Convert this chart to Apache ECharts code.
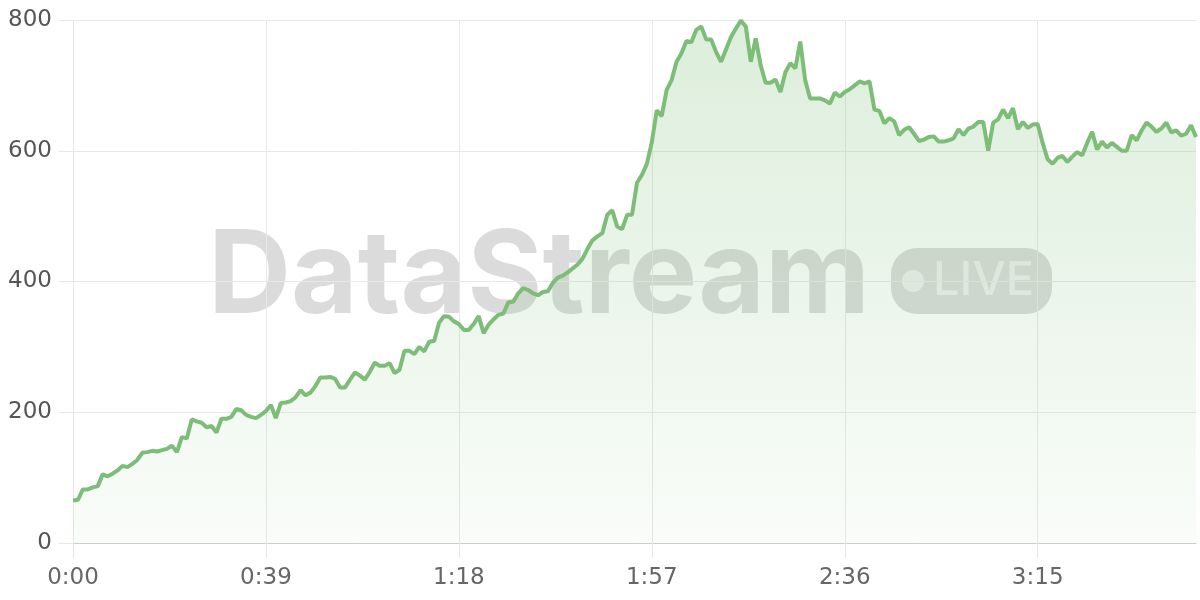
<!DOCTYPE html>
<html>
<head>
<meta charset="utf-8">
<script src="https://cdn.jsdelivr.net/npm/echarts@6/dist/echarts.min.js"></script>
<style>html,body{margin:0;padding:0;background:#fff}#c{width:1200px;height:600px}</style>
</head>
<body>
<div id="c"></div>
<script>
// values per second, 0:00 .. 3:47
const values = [
65,66,82,82,85,87,105,102,106,111,
118,116,121,127,138,139,141,140,142,144,
149,139,162,160,189,186,184,177,179,169,
190,190,193,205,203,196,193,191,196,202,
211,191,214,215,217,223,234,226,230,240,
253,253,254,251,238,238,250,261,256,250,
262,276,271,271,275,260,265,294,294,289,
300,293,308,309,337,347,346,339,335,326,
326,335,347,321,334,342,349,351,368,369,
382,390,387,382,379,384,385,398,406,409,
414,420,426,435,450,463,469,474,502,509,
484,480,502,502,551,563,580,613,662,653,
693,708,736,749,768,766,785,790,770,770,
751,736,755,774,787,799,790,736,772,731,
704,704,709,690,720,734,726,767,708,680,
680,680,677,672,689,683,690,694,700,706,
703,706,663,661,642,650,645,624,632,636,
626,615,617,621,622,614,614,616,619,633,
624,634,637,644,644,600,643,648,663,650,
665,633,644,635,640,641,612,587,580,589,
592,583,591,598,593,612,629,602,614,605,
612,606,600,600,624,616,631,643,637,629,
634,643,628,631,623,626,639,621
];
// category labels m:ss, one per sample
const categories = values.map((_, i) => Math.floor(i / 60) + ':' + String(i % 60).padStart(2, '0'));
const yTicks = [0, 200, 400, 600, 800];

const chart = echarts.init(document.getElementById('c'), null, {renderer: 'canvas'});
const AXFONT = '"DejaVu Sans", sans-serif';
const WMFONT = 'Inter, "Noto Sans", sans-serif';
chart.setOption({
  animation: false,
  backgroundColor: '#fff',
  grid: {left: 73, right: 4, top: 20, bottom: 57, containLabel: false},
  graphic: [
    {type: 'text', left: 208, top: 221, z: 0, silent: true,
     style: {text: 'DataStream', font: 'bold 115px ' + WMFONT, fill: 'rgba(0,0,0,0.14)'}},
    {type: 'rect', left: 891, top: 248, z: 0, silent: true,
     shape: {width: 161, height: 66, r: 26}, style: {fill: 'rgba(0,0,0,0.14)'}},
    {type: 'circle', left: 902, top: 270, z: 0, silent: true,
     shape: {r: 11}, style: {fill: 'rgba(255,255,255,0.55)'}},
    {type: 'text', left: 933, top: 257, z: 0, silent: true,
     style: {text: 'LIVE', font: '500 47px ' + WMFONT, fill: 'rgba(255,255,255,0.55)'}}
  ],
  xAxis: {
    type: 'category',
    data: categories,
    boundaryGap: false,
    axisLine: {show: true, lineStyle: {color: '#ccc', width: 1}},
    axisTick: {show: true, interval: 38, length: 15, lineStyle: {color: '#e6e6e6'}},
    axisLabel: {interval: 38, color: '#666', fontSize: 23, fontFamily: AXFONT, margin: 24},
    splitLine: {show: true, interval: 38, lineStyle: {color: '#e8e8e8', width: 1}}
  },
  yAxis: {
    type: 'value',
    min: 0, max: 800, interval: 200,
    axisLine: {show: false},
    axisTick: {show: true, length: 15, lineStyle: {color: '#e8e8e8'}},
    axisLabel: {color: '#555', fontSize: 23, fontFamily: AXFONT, margin: 21,
      formatter: v => yTicks.includes(v) ? String(v) : ''},
    splitLine: {show: true, lineStyle: {color: '#e8e8e8', width: 1}}
  },
  series: [{
    type: 'line',
    data: values,
    showSymbol: false,
    z: 3,
    lineStyle: {color: '#7cbd78', width: 4},
    areaStyle: {
      color: new echarts.graphic.LinearGradient(0, 0, 0, 1, [
        {offset: 0, color: 'rgba(125,190,120,0.38)'},
        {offset: 1, color: 'rgba(125,190,120,0.06)'}
      ])
    }
  }]
});
</script>
</body>
</html>
